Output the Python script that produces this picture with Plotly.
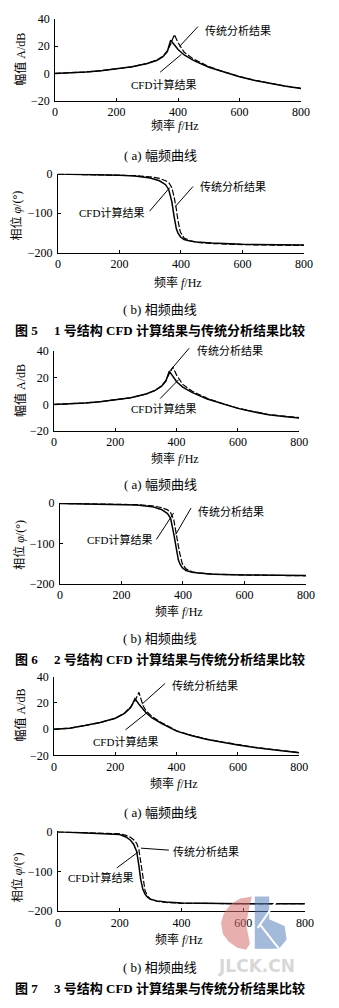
import plotly.graph_objects as go

W, H = 339, 1008

# ---------------- data ----------------
# Fig 5 (structure 1)
f5a = [0, 50, 100, 150, 200, 250, 300, 330, 350, 365, 376, 388, 400, 420, 450, 500, 550, 600, 650, 700, 750, 800]
cfd5a = [0, 0.3, 1.0, 2.0, 3.2, 4.8, 7.2, 9.5, 12.0, 16.0, 24.3, 20.5, 17.5, 13.5, 9.5, 4.5, 0.8, -2.5, -5.2, -7.5, -9.5, -11.0]
trad5a = [0, 0.3, 1.0, 2.0, 3.2, 4.8, 7.3, 9.8, 12.5, 16.5, 21.5, 28.5, 22.5, 15.5, 10.5, 5.0, 1.0, -2.3, -5.0, -7.3, -9.3, -10.8]

f5b = [0, 100, 200, 250, 300, 330, 350, 360, 370, 378, 385, 390, 398, 410, 430, 450, 500, 600, 700, 800]
cfd5b = [-1, -2, -4, -6, -11, -18, -28, -40, -70, -110, -140, -150, -160, -167, -171, -173, -176, -179, -180, -181]
trad5b = [-1, -2, -4, -5, -8, -12, -18, -22, -35, -60, -90, -118, -148, -163, -170, -174, -177, -180, -181, -182]

# Fig 6 (structure 2)
f6a = [0, 50, 100, 150, 200, 250, 300, 330, 350, 365, 376, 388, 400, 420, 450, 500, 550, 600, 650, 700, 750, 800]
cfd6a = [0, 0.3, 1.0, 2.0, 3.3, 5.0, 7.8, 10.5, 13.5, 17.5, 25.0, 20.5, 17.0, 13.0, 9.0, 4.0, 0.3, -3.0, -5.5, -7.8, -9.0, -10.2]
trad6a = [0, 0.3, 1.0, 2.0, 3.3, 5.0, 7.8, 10.5, 13.8, 18.0, 23.0, 28.0, 22.0, 15.0, 10.0, 4.5, 0.6, -2.8, -5.3, -7.6, -8.8, -10.0]

f6b = [0, 100, 200, 250, 300, 330, 350, 360, 370, 378, 385, 390, 398, 410, 430, 450, 500, 600, 700, 800]
cfd6b = [-1, -2, -3, -5, -9, -16, -26, -38, -75, -115, -140, -150, -160, -167, -171, -173, -176, -178, -179, -179]
trad6b = [-1, -2, -3, -4, -7, -11, -17, -24, -40, -70, -105, -125, -150, -163, -170, -173, -176, -178, -179, -180]

# Fig 7 (structure 3)
f7a = [0, 50, 100, 150, 200, 230, 250, 264, 277, 290, 300, 320, 350, 400, 450, 500, 550, 600, 650, 700, 750, 800]
cfd7a = [0, 0.7, 2.7, 5.0, 8.3, 12.0, 16.5, 23.2, 19.0, 15.0, 12.5, 8.5, 4.5, -1.5, -5.0, -7.8, -10.0, -12.0, -13.8, -15.3, -16.7, -18.0]
trad7a = [0, 0.7, 2.7, 5.0, 8.3, 12.3, 17.0, 21.5, 28.0, 18.0, 14.0, 9.5, 5.0, -1.2, -4.8, -7.6, -9.8, -11.8, -13.6, -15.1, -16.5, -17.8]

f7b = [0, 100, 150, 200, 220, 235, 245, 255, 262, 268, 275, 282, 290, 300, 320, 350, 400, 500, 600, 800]
cfd7b = [-1, -4, -5, -8, -14, -22, -32, -50, -85, -120, -145, -157, -165, -170, -174, -177, -179, -180, -181, -181]
trad7b = [-1, -3, -4, -6, -10, -15, -21, -30, -45, -80, -120, -148, -162, -170, -175, -178, -180, -181, -181, -181]

x_ticks = [0, 200, 400, 600, 800]
amp_ticks = [-20, 0, 20, 40]
phase_ticks = [-200, -100, 0]

series_names = ["CFD计算结果", "传统分析结果"]
amp_title = "幅值 A/dB"
phase_title = "相位 <i>φ</i>/(°)"
x_title = "频率 <i>f</i>/Hz"
cap_a = "( a) 幅频曲线"
cap_b = "( b) 相频曲线"
fig_titles = ["图 5　 1 号结构 CFD 计算结果与传统分析结果比较",
              "图 6　 2 号结构 CFD 计算结果与传统分析结果比较",
              "图 7　 3 号结构 CFD 计算结果与传统分析结果比较"]

# ---------------- layout geometry (pixels) ----------------
panels = [
    dict(f=f5a, c=cfd5a, t=trad5a, x0=54, x1=309, ytop=12, ybot=95, yr=[-20, 40], yt=amp_ticks, kind="a"),
    dict(f=f5b, c=cfd5b, t=trad5b, x0=57, x1=312, ytop=169, ybot=249, yr=[-200, 0], yt=phase_ticks, kind="b"),
    dict(f=f6a, c=cfd6a, t=trad6a, x0=53, x1=307, ytop=349, ybot=430, yr=[-20, 40], yt=amp_ticks, kind="a"),
    dict(f=f6b, c=cfd6b, t=trad6b, x0=59, x1=314, ytop=503, ybot=585, yr=[-200, 0], yt=phase_ticks, kind="b"),
    dict(f=f7a, c=cfd7a, t=trad7a, x0=53, x1=307, ytop=679, ybot=759, yr=[-20, 40], yt=amp_ticks, kind="a"),
    dict(f=f7b, c=cfd7b, t=trad7b, x0=57, x1=313, ytop=836, ybot=917, yr=[-200, 0], yt=phase_ticks, kind="b"),
]

def px(x):
    return x / W

def py(y):
    return 1 - y / H

FONT = "Liberation Serif, Noto Sans CJK SC, serif"
CJK = "Noto Sans CJK SC, Liberation Serif"

fig = go.Figure()
layout = dict(width=W, height=H, margin=dict(l=0, r=0, t=0, b=0),
              paper_bgcolor="white", plot_bgcolor="white", showlegend=False,
              font=dict(family=FONT, size=12, color="black"))

annotations = []
shapes = []

for i, p in enumerate(panels):
    n = "" if i == 0 else str(i + 1)
    xa, ya = "x" + n, "y" + n
    fig.add_trace(go.Scatter(x=p["f"], y=p["t"], mode="lines", name=series_names[1],
                             line=dict(color="black", width=1.2, dash="6px,2px"),
                             xaxis=xa, yaxis=ya))
    fig.add_trace(go.Scatter(x=p["f"], y=p["c"], mode="lines", name=series_names[0],
                             line=dict(color="black", width=1.5),
                             xaxis=xa, yaxis=ya))
    axcommon = dict(showline=True, linecolor="black", linewidth=1, ticks="inside",
                    ticklen=3, tickwidth=1, tickcolor="black", showgrid=False,
                    zeroline=False, tickfont=dict(family=FONT, size=12, color="black"))
    layout["xaxis" + n] = dict(axcommon, domain=[px(p["x0"]), px(p["x1"])], range=[0, 800],
                               tickvals=x_ticks, anchor=ya, ticklabelstandoff=0)
    layout["yaxis" + n] = dict(axcommon, domain=[py(p["ybot"]), py(p["ytop"])], range=p["yr"],
                               tickvals=p["yt"], anchor=xa, ticklabelstandoff=2)

# axis titles & captions (pixel positions)
ytitle_pos = [(18, 53), (14, 212), (18, 389), (17, 545), (18, 718), (15, 882)]
xtitle_pos = [(178, 120), (181, 279), (178, 458), (182, 613), (177, 787), (182, 946)]
cap_pos = [(163, 151), (163, 307), (163, 484), (163, 640), (163, 817), (163, 974)]
title_pos = [(163, 328), (163, 662), (163, 995)]

for i, p in enumerate(panels):
    yt = amp_title if p["kind"] == "a" else phase_title
    annotations.append(dict(x=px(ytitle_pos[i][0]), y=py(ytitle_pos[i][1]), xref="paper", yref="paper",
                            text=yt, showarrow=False, textangle=-90,
                            font=dict(family=FONT, size=12), xanchor="center", yanchor="middle"))
    annotations.append(dict(x=px(xtitle_pos[i][0]), y=py(xtitle_pos[i][1]), xref="paper", yref="paper",
                            text=x_title, showarrow=False,
                            font=dict(family=FONT, size=12), xanchor="center", yanchor="middle"))
    annotations.append(dict(x=px(cap_pos[i][0]), y=py(cap_pos[i][1]), xref="paper", yref="paper",
                            text=cap_a if p["kind"] == "a" else cap_b, showarrow=False,
                            font=dict(family=FONT, size=13), xanchor="center", yanchor="middle"))

for j, t in enumerate(fig_titles):
    annotations.append(dict(x=px(title_pos[j][0]), y=py(title_pos[j][1]), xref="paper", yref="paper",
                            text="<b>" + t + "</b>", showarrow=False,
                            font=dict(family=FONT, size=13), xanchor="center", yanchor="middle"))

# leader lines and labels: (text anchor, line_from, line_to)
trad_labels = [((207, 23), (202, 20), (183, 40)),
               ((202, 182), (197, 182), (179, 202)),
               ((199, 348), (193, 346), (173, 369)),
               ((200, 511), (195, 508), (179, 535)),
               ((173, 688), (168, 686), (144, 707)),
               ((174, 856), (172, 855), (143, 853))]
cfd_labels = [((202, 79), (163, 66), (185, 48)),
              ((148, 208), (152, 207), (173, 183)),
              ((202, 407), (163, 397), (182, 378)),
              ((157, 540), (159, 540), (177, 513)),
              ((163, 745), (127, 733), (150, 715)),
              ((137, 883), (118, 873), (140, 857))]

for i in range(6):
    (tx, ty), a, b = trad_labels[i]
    annotations.append(dict(x=px(tx), y=py(ty), xref="paper", yref="paper", text=series_names[1],
                            showarrow=False, xanchor="left", yanchor="middle",
                            font=dict(family=CJK, size=11)))
    shapes.append(dict(type="line", xref="paper", yref="paper", x0=px(a[0]), y0=py(a[1]),
                       x1=px(b[0]), y1=py(b[1]), line=dict(color="black", width=1)))
    (tx, ty), a, b = cfd_labels[i]
    annotations.append(dict(x=px(tx), y=py(ty), xref="paper", yref="paper", text=series_names[0],
                            showarrow=False, xanchor="right", yanchor="middle",
                            font=dict(family=FONT, size=11)))
    shapes.append(dict(type="line", xref="paper", yref="paper", x0=px(a[0]), y0=py(a[1]),
                       x1=px(b[0]), y1=py(b[1]), line=dict(color="black", width=1)))

# watermark (JLCK.CN logo)
def path(pts):
    return "M " + " L ".join(f"{px(x):.5f},{py(y):.5f}" for x, y in pts) + " Z"

red_pts = [(258, 902), (246, 904), (236, 910), (229, 919), (226, 929), (228, 940),
           (234, 948), (243, 954), (252, 956), (256, 950), (252, 930), (256, 910)]
blue_pts = [(261, 902), (276, 902), (276, 925), (292, 932), (294, 946), (286, 955), (261, 955)]
shapes.append(dict(type="path", xref="paper", yref="paper", path=path(red_pts),
                   fillcolor="rgba(214,110,110,0.55)", line=dict(width=0), layer="above"))
shapes.append(dict(type="path", xref="paper", yref="paper", path=path(blue_pts),
                   fillcolor="rgba(90,130,190,0.55)", line=dict(width=0), layer="above"))
shapes.append(dict(type="line", xref="paper", yref="paper", x0=px(264), y0=py(934), x1=px(284), y1=py(906),
                   line=dict(color="white", width=2)))
shapes.append(dict(type="line", xref="paper", yref="paper", x0=px(266), y0=py(930), x1=px(286), y1=py(955),
                   line=dict(color="white", width=2)))
annotations.append(dict(x=px(263), y=py(972), xref="paper", yref="paper", text="<b>JLCK.CN</b>",
                        showarrow=False, xanchor="center", yanchor="middle",
                        font=dict(family="DejaVu Sans", size=17, color="rgba(205,205,205,0.8)")))

layout["annotations"] = annotations
layout["shapes"] = shapes
fig.update_layout(**layout)
fig.write_html("out.html")
